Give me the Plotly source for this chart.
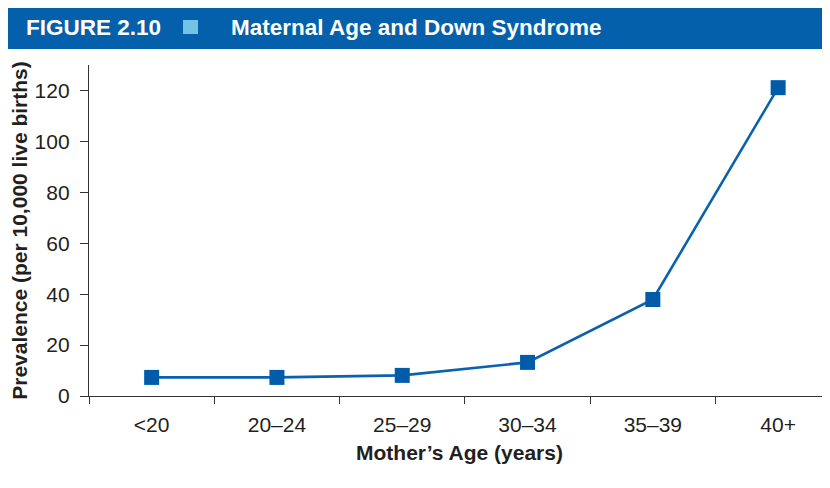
import plotly.graph_objects as go

# Data
age_groups = ["<20", "20\u201324", "25\u201329", "30\u201334", "35\u201339", "40+"]
prevalence = [7.3, 7.3, 8.1, 13.2, 37.9, 121.1]
y_ticks = [0, 20, 40, 60, 80, 100, 120]

# The page body has an 8px margin, so the figure sits at (8, 8) in the window.
OFF = 8
W, H = 830 - OFF, 488 - OFF
L, R, T = 89 - OFF, 0, 65 - OFF
B = H - (396 - OFF)
pw, ph = W - L - R, H - T - B

def px(x):
    return (x - OFF - L) / pw

def py(y):
    return (H - B - (y - OFF)) / ph

BLUE = "#0460AA"
fig = go.Figure()
fig.add_trace(go.Scatter(
    x=age_groups, y=prevalence, mode="lines+markers",
    line=dict(color="#0A62AE", width=2.6),
    marker=dict(symbol="square", size=15, color="#005CA9"),
    hoverinfo="skip", showlegend=False, cliponaxis=False,
))

fig.update_layout(
    width=W, height=H,
    margin=dict(l=L, r=R, t=T, b=B),
    paper_bgcolor="white", plot_bgcolor="white",
    font=dict(family="Liberation Sans, Arial, sans-serif", size=21, color="#231F20"),
    xaxis=dict(
        type="category", range=[-0.5, 5.414], tickson="boundaries",
        ticks="outside", ticklen=7, tickwidth=1.4, tickcolor="#333",
        showline=True, linecolor="#333", linewidth=1.4,
        showgrid=False, zeroline=False,
        tickfont=dict(size=21), ticklabelstandoff=10,
        title=dict(text="<b>Mother\u2019s Age (years)</b>", font=dict(size=21), standoff=9),
    ),
    yaxis=dict(
        range=[0, 130], tickvals=y_ticks,
        ticks="outside", ticklen=8, tickwidth=1.4, tickcolor="#333",
        showline=True, linecolor="#333", linewidth=1.4,
        showgrid=False, zeroline=False,
        tickfont=dict(size=21), ticklabelstandoff=6,
        title=dict(text="<b>Prevalence (per 10,000 live births)</b>", font=dict(size=21), standoff=2),
    ),
    shapes=[
        dict(type="rect", xref="paper", yref="paper",
             x0=px(8), x1=px(830), y0=py(49), y1=py(5),
             fillcolor=BLUE, line=dict(width=0), layer="above"),
        dict(type="rect", xref="paper", yref="paper",
             x0=px(183), x1=px(198), y0=py(34), y1=py(20),
             fillcolor="#72C5E2", line=dict(width=0), layer="above"),
    ],
    annotations=[
        dict(text="<b>FIGURE 2.10</b>", xref="paper", yref="paper",
             x=px(24), y=py(27), xanchor="left", yanchor="middle",
             showarrow=False, font=dict(size=22.5, color="white")),
        dict(text="<b>Maternal Age and Down Syndrome</b>", xref="paper", yref="paper",
             x=px(229), y=py(27), xanchor="left", yanchor="middle",
             showarrow=False, font=dict(size=22.5, color="white")),
    ],
)

fig.write_html("out.html")
